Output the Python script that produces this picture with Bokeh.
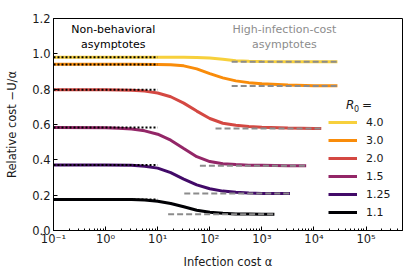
from bokeh.plotting import figure
from bokeh.models import Legend, LegendItem, Label, CustomJSTickFormatter, PrintfTickFormatter
from bokeh.embed import file_html
from bokeh.resources import INLINE

# ---------------- data ----------------
R0_LABELS = ["4.0", "3.0", "2.0", "1.5", "1.25", "1.1"]
COLORS = ["#F7D03C", "#F98C0A", "#D44842", "#932667", "#420A68", "#000004"]

# log10(alpha) sample points and relative cost for each curve
LOGA_40 = [-1, 0, 1, 1.5, 1.75, 2.0, 2.25, 2.5, 2.75, 3.0, 3.5, 4.0, 4.45]
COST_40 = [0.980, 0.980, 0.980, 0.980, 0.979, 0.976, 0.969, 0.961, 0.958, 0.956, 0.955, 0.955, 0.955]

LOGA_30 = [-1, 0, 0.5, 1.0, 1.25, 1.5, 1.75, 2.0, 2.25, 2.5, 2.75, 3.0, 3.5, 4.0, 4.45]
COST_30 = [0.941, 0.941, 0.941, 0.940, 0.938, 0.932, 0.915, 0.888, 0.864, 0.847, 0.837, 0.831, 0.824, 0.820, 0.819]

LOGA_20 = [-1, 0, 0.5, 0.75, 1.0, 1.25, 1.5, 1.75, 2.0, 2.25, 2.5, 2.75, 3.0, 3.5, 4.0, 4.14]
COST_20 = [0.797, 0.797, 0.794, 0.789, 0.778, 0.757, 0.721, 0.676, 0.634, 0.607, 0.596, 0.589, 0.585, 0.580, 0.578, 0.577]

LOGA_15 = [-1, 0, 0.25, 0.5, 0.75, 1.0, 1.25, 1.5, 1.75, 2.0, 2.25, 2.5, 2.75, 3.0, 3.5, 3.85]
COST_15 = [0.583, 0.582, 0.579, 0.574, 0.564, 0.545, 0.511, 0.464, 0.418, 0.390, 0.378, 0.373, 0.370, 0.369, 0.367, 0.366]

LOGA_125 = [-1, 0, 0.5, 0.75, 1.0, 1.25, 1.5, 1.75, 2.0, 2.25, 2.5, 2.75, 3.0, 3.54]
COST_125 = [0.371, 0.371, 0.369, 0.364, 0.353, 0.328, 0.291, 0.258, 0.236, 0.223, 0.216, 0.212, 0.210, 0.209]

LOGA_11 = [-1, 0, 0.5, 0.75, 1.0, 1.25, 1.5, 1.75, 2.0, 2.25, 2.5, 2.75, 3.0, 3.24]
COST_11 = [0.176, 0.176, 0.175, 0.172, 0.166, 0.153, 0.134, 0.115, 0.103, 0.097, 0.094, 0.093, 0.092, 0.092]

CURVES_LOGA = [LOGA_40, LOGA_30, LOGA_20, LOGA_15, LOGA_125, LOGA_11]
CURVES_COST = [COST_40, COST_30, COST_20, COST_15, COST_125, COST_11]

# non-behavioral asymptotes (dotted), drawn from alpha = 0.1 to 10
NONBEH = [0.980, 0.940, 0.797, 0.583, 0.371, 0.176]
NONBEH_ALPHA = [0.1, 10]
# high-infection-cost asymptotes (dashed)
HIGHCOST = [0.955, 0.818, 0.577, 0.366, 0.209, 0.092]
HIGHCOST_START_LOGA = [2.42, 2.42, 2.11, 1.81, 1.51, 1.20]

Y_TICKS = [0.0, 0.2, 0.4, 0.6, 0.8, 1.0, 1.2]

FONT = "DejaVu Sans"
TXT = "#1a1a1a"
GREY = "#8c8c8c"

# ---------------- figure ----------------
p = figure(frame_width=349, frame_height=212, x_axis_type="log",
           x_range=(0.1, 5e5), y_range=(0, 1.2),
           output_backend="svg", toolbar_location=None,
           min_border_left=53, min_border_top=18, min_border_right=5, min_border_bottom=39)

p.xgrid.visible = False
p.ygrid.visible = False
p.outline_line_color = "black"
p.outline_line_width = 1
p.background_fill_color = "white"
p.border_fill_color = "white"

for ax in (p.xaxis[0], p.yaxis[0]):
    ax.axis_line_color = "black"
    ax.major_tick_in = 4
    ax.major_tick_out = 0
    ax.minor_tick_in = 2
    ax.minor_tick_out = 0
    ax.major_label_text_font = FONT
    ax.major_label_text_font_size = "11.5px"
    ax.major_label_text_color = TXT
    ax.axis_label_text_font = FONT
    ax.axis_label_text_font_size = "11.5px"
    ax.axis_label_text_font_style = "normal"
    ax.axis_label_text_color = TXT

p.yaxis.ticker = Y_TICKS
p.yaxis.formatter = PrintfTickFormatter(format="%.1f")
p.yaxis.minor_tick_line_color = None
p.yaxis.major_label_standoff = 3
p.yaxis.axis_label = "Relative cost \u2212U/\u03b1"
p.yaxis.axis_label_standoff = 10

p.xaxis.formatter = CustomJSTickFormatter(code="""
    const sup = {'-':'\u207b','0':'\u2070','1':'\u00b9','2':'\u00b2','3':'\u00b3','4':'\u2074',
                 '5':'\u2075','6':'\u2076','7':'\u2077','8':'\u2078','9':'\u2079'};
    const e = String(Math.round(Math.log10(tick)));
    let s = '10';
    for (const c of e) { s += sup[c]; }
    return s;
""")
p.xaxis.major_label_standoff = 1
p.xaxis.axis_label = "Infection cost \u03b1"
p.xaxis.axis_label_standoff = 6

# curves
renderers = []
for loga, cost, col in zip(CURVES_LOGA, CURVES_COST, COLORS):
    r = p.line([10 ** v for v in loga], cost, line_color=col, line_width=3)
    renderers.append(r)

# dotted asymptotes
for yv in NONBEH:
    p.line(NONBEH_ALPHA, [yv, yv], line_color="black", line_width=2, line_dash="2 2")

# dashed asymptotes
for yv, s, loga in zip(HIGHCOST, HIGHCOST_START_LOGA, CURVES_LOGA):
    p.line([10 ** s, 10 ** loga[-1]], [yv, yv], line_color=GREY, line_width=2, line_dash="6 3")

# legend
legend = Legend(items=[LegendItem(label=l, renderers=[r]) for l, r in zip(R0_LABELS, renderers)],
                location=(275, 10), glyph_width=29, glyph_height=16, label_height=16,
                label_standoff=9, spacing=2, padding=0, margin=0,
                border_line_color=None, background_fill_alpha=0,
                label_text_font=FONT, label_text_font_size="11px", label_text_color=TXT)
p.add_layout(legend)

# legend title  R_0 =
tx = 10 ** (-1 + (345 - 52.7) / 52.05)
p.add_layout(Label(x=tx, y=0.709, text="R", text_font=FONT, text_font_size="12px",
                   text_font_style="italic", text_baseline="middle", text_align="left", text_color=TXT))
p.add_layout(Label(x=tx, y=0.709, x_offset=8, y_offset=-3, text="0", text_font=FONT, text_font_size="8px",
                   text_baseline="middle", text_align="left", text_color=TXT))
p.add_layout(Label(x=tx, y=0.709, x_offset=16, text="=", text_font=FONT, text_font_size="12px",
                   text_baseline="middle", text_align="left", text_color=TXT))

# annotations
for txt, yy in (("Non-behavioral", 1.139), ("asymptotes", 1.055)):
    p.add_layout(Label(x=1.4, y=yy, text=txt, text_font=FONT, text_font_size="11px",
                       text_align="center", text_baseline="middle", text_color="black"))
for txt, yy in (("High-infection-cost", 1.139), ("asymptotes", 1.055)):
    p.add_layout(Label(x=2700, y=yy, text=txt, text_font=FONT, text_font_size="11px",
                       text_align="center", text_baseline="middle", text_color=GREY))

open("out.html", "w").write(file_html(p, INLINE))
